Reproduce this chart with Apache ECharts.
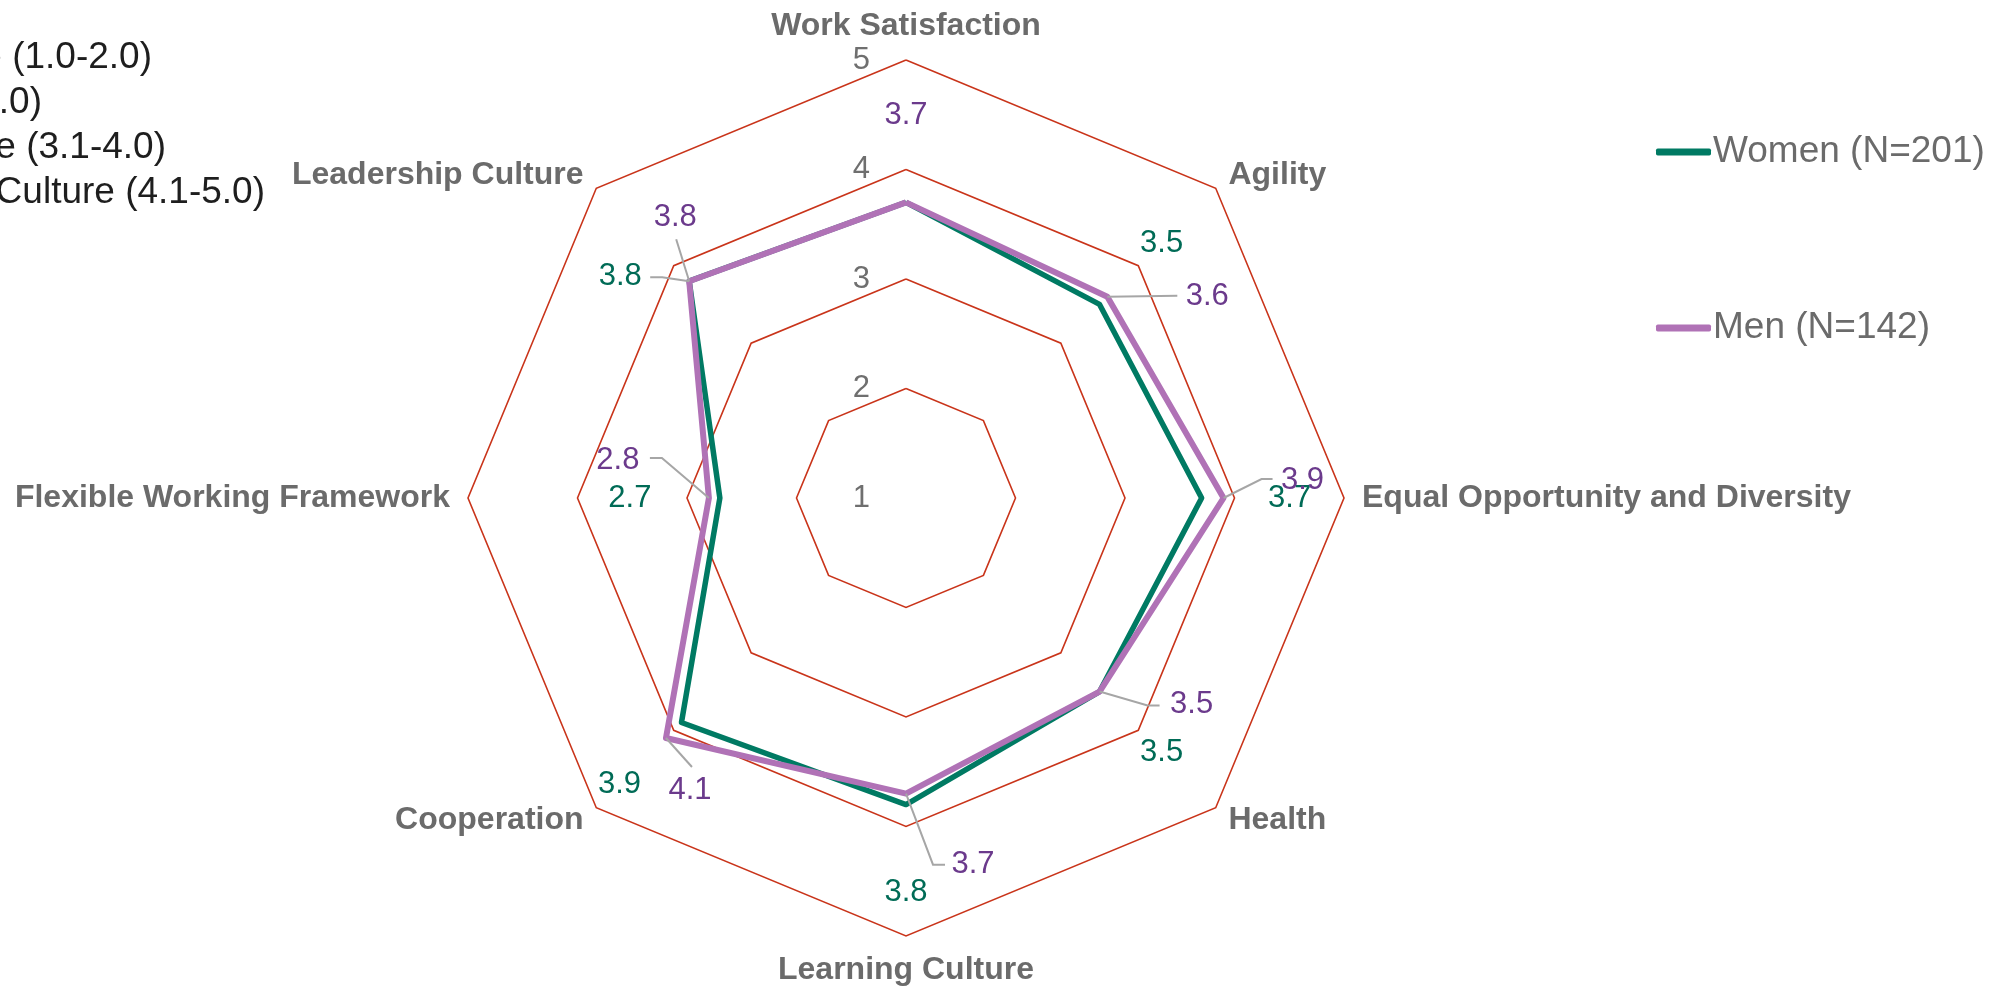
<!DOCTYPE html>
<html>
<head>
<meta charset="utf-8">
<title>Culture radar</title>
<script src="https://cdn.jsdelivr.net/npm/echarts@6/dist/echarts.min.js"></script>
<style>html,body{margin:0;padding:0;background:#fff;}</style>
</head>
<body>
<div id="main" style="width:2015px;height:989px;"></div>
<script type="text/javascript">
// categories clockwise from the top
var categories = ['Work Satisfaction', 'Agility', 'Equal Opportunity and Diversity', 'Health',
    'Learning Culture', 'Cooperation', 'Flexible Working Framework', 'Leadership Culture'];
var women = [3.7, 3.5, 3.7, 3.5, 3.8, 3.9, 2.7, 3.8];
var men = [3.7, 3.6, 3.9, 3.5, 3.7, 4.1, 2.8, 3.8];
var seriesNames = ['Women (N=201)', 'Men (N=142)'];
var scaleMin = 1, scaleMax = 5;
var bandNotes = ['Weak Culture (1.0-2.0)', 'Moderate Culture (2.1-3.0)',
    'Positive Culture (3.1-4.0)', 'Excellent Culture (4.1-5.0)'];

// label placement (offset from the point), null = no label
var womenLabelOffset = [null, [62, -61], [88, 0], [62, 61], [0, 88], [-62, 62], [-90, 0], [-69, -5]];
var menLabelOffset = [[0, -87], [100, 0], [79, -18], [92, 13], [67, 71], [24, 52], [-91, -38], [-14, -64]];
// leader lines, as bends relative to the point
var womenLeader = [null, null, null, null, null, null, null, [[-27, -4], [-39, -4]]];
var menLeader = [null, [[70, -1]], [[38, -19], [49, -19]], [[48, 14], [60, 14]], [[27, 71], [39, 71]],
    [[26, 29]], [[-47, -40], [-59, -40]], [[-13, -42]]];

var FONT = 'Liberation Sans, Arial, sans-serif';
var CX = 906, CY = 498, R = 438;
var womenColor = '#007A63', menColor = '#B072B6';
var womenText = '#006B56', menText = '#6B3A8C';

// radar goes counter-clockwise, so feed it the reversed order
var order = [0, 7, 6, 5, 4, 3, 2, 1];

var indicators = order.map(function (i, k) {
    var ind = {name: categories[i], min: scaleMin, max: scaleMax};
    if (k === 0) {
        ind.axisLabel = {show: true, color: '#6F6F6F', fontSize: 31, fontFamily: FONT, margin: 36};
    }
    return ind;
});

function labelData(values, offsets, color) {
    return values.map(function (v, i) {
        var off = offsets[i];
        return {
            value: [v, categories[i]],
            label: {show: off != null, offset: off || [0, 0], color: color}
        };
    });
}

// leader line items, one per label that has a bend list
var leaderItems = [];
[[women, womenLeader], [men, menLeader]].forEach(function (pair) {
    pair[1].forEach(function (bends, i) {
        if (bends) leaderItems.push({value: [pair[0][i], categories[i]], bends: bends});
    });
});

var myChart = echarts.init(document.getElementById('main'));

myChart.setOption({
    animation: false,
    textStyle: {fontFamily: FONT},
    legend: {
        orient: 'vertical',
        left: 1651,
        top: 127,
        itemWidth: 55,
        itemHeight: 7,
        itemGap: 136,
        icon: 'roundRect',
        selectedMode: false,
        textStyle: {fontSize: 37, color: '#6B6B6B', lineHeight: 40, fontFamily: FONT, padding: [0, 0, 0, -3]},
        data: seriesNames
    },
    graphic: bandNotes.map(function (t, i) {
        var rightEdge = [152, 42, 166, 265];
        return {
            type: 'text',
            x: rightEdge[i],
            y: 58 + i * 45,
            silent: true,
            style: {
                text: t,
                align: 'right',
                verticalAlign: 'middle',
                fill: '#1E1E1E',
                font: '37px ' + FONT
            }
        };
    }),
    radar: {
        center: [CX, CY],
        radius: R,
        startAngle: 90,
        splitNumber: 4,
        shape: 'polygon',
        indicator: indicators,
        nameGap: 18,
        axisName: {color: '#6B6B6B', fontSize: 32, fontWeight: 'bold', fontFamily: FONT},
        splitLine: {lineStyle: {color: '#C9341A', width: 1.6}},
        splitArea: {show: false},
        axisLine: {show: false},
        axisTick: {show: false},
        axisLabel: {show: false}
    },
    polar: {center: [CX, CY], radius: R},
    angleAxis: {
        type: 'category',
        data: categories,
        boundaryGap: true,
        startAngle: 90 + 180 / categories.length,
        show: false
    },
    radiusAxis: {type: 'value', min: scaleMin, max: scaleMax, show: false},
    series: [
        {
            type: 'radar',
            symbol: 'none',
            data: [
                {
                    name: seriesNames[0],
                    value: order.map(function (i) { return women[i]; }),
                    lineStyle: {color: womenColor, width: 5.5},
                    itemStyle: {color: womenColor}
                },
                {
                    name: seriesNames[1],
                    value: order.map(function (i) { return men[i]; }),
                    lineStyle: {color: menColor, width: 6},
                    itemStyle: {color: menColor}
                }
            ]
        },
        {
            name: 'leaders',
            type: 'custom',
            coordinateSystem: 'polar',
            silent: true,
            z: 4,
            data: leaderItems,
            renderItem: function (params, api) {
                var p = api.coord([api.value(0), api.value(1)]);
                var pts = [p].concat(leaderItems[params.dataIndex].bends.map(function (b) {
                    return [p[0] + b[0], p[1] + b[1]];
                }));
                return {
                    type: 'polyline',
                    shape: {points: pts},
                    style: {stroke: '#A6A6A6', lineWidth: 2, fill: null}
                };
            }
        },
        {
            name: 'women labels',
            type: 'scatter',
            coordinateSystem: 'polar',
            symbolSize: 1,
            silent: true,
            z: 5,
            itemStyle: {color: 'rgba(0,0,0,0)', opacity: 1},
            label: {show: true, position: 'inside', fontSize: 31, fontFamily: FONT, opacity: 1,
                formatter: function (p) { return p.value[0].toFixed(1); }},
            data: labelData(women, womenLabelOffset, womenText)
        },
        {
            name: 'men labels',
            type: 'scatter',
            coordinateSystem: 'polar',
            symbolSize: 1,
            silent: true,
            z: 6,
            itemStyle: {color: 'rgba(0,0,0,0)', opacity: 1},
            label: {show: true, position: 'inside', fontSize: 31, fontFamily: FONT, opacity: 1,
                formatter: function (p) { return p.value[0].toFixed(1); }},
            data: labelData(men, menLabelOffset, menText)
        }
    ]
});
</script>
</body>
</html>
